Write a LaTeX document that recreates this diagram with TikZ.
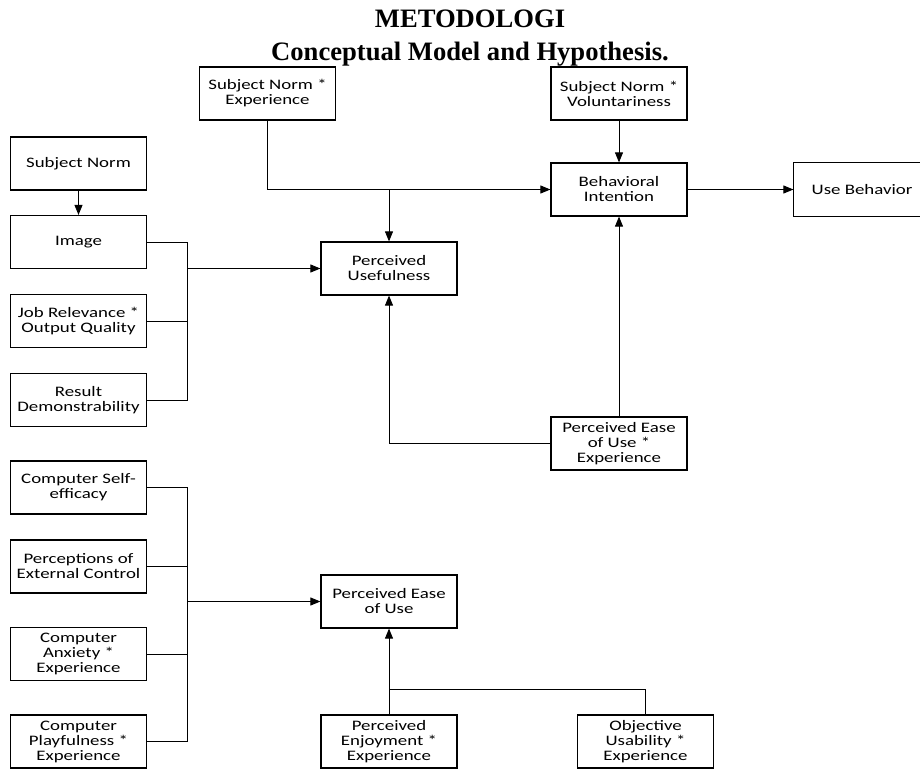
\documentclass[tikz,border=0pt]{standalone}
\usepackage{fontspec}
\setmainfont{Carlito}[FakeStretch=1.3]
\newfontfamily\titlefont{Liberation Serif}
\usetikzlibrary{arrows.meta}

\begin{document}
\begin{tikzpicture}[x=1pt,y=-1pt,
        box/.style={draw, line width=1.2pt, minimum width=136pt, minimum height=53pt,
            align=center, inner sep=1pt, font=\fontsize{14.5}{15}\selectfont},
        conn/.style={line width=0.9pt},
        >={Triangle[length=10pt,width=8pt]}]
            \useasboundingbox (0,0) rectangle (920,768);
            \clip (0,0) rectangle (920,768);
            \fill[white] (0,0) rectangle (920,768);

            \node[anchor=base] at (470,28) (T1) {\titlefont\fontsize{26.6}{31}\selectfont\bfseries METODOLOGI};
            \node[anchor=base] at (470,60) (T2) {\titlefont\fontsize{26.6}{31}\selectfont\bfseries Conceptual Model and Hypothesis.};

            \node[box] at (78.5,163.5) (B) {Subject Norm};
            \node[box] at (78.5,242) (C) {Image};
            \node[box] at (78.5,321) (D) {Job Relevance *\\Output Quality};
            \node[box] at (78.5,400) (E) {Result\\Demonstrability};
            \node[box] at (78.5,487.5) (F) {Computer Self-\\efficacy};
            \node[box] at (78.5,566.5) (G) {Perceptions of\\External Control};
            \node[box] at (78.5,654) (H) {Computer\\Anxiety *\\Experience};
            \node[box] at (78.5,741.5) (I) {Computer\\Playfulness *\\Experience};
            \node[box] at (267.5,93.5) (J) {Subject Norm *\\Experience};
            \node[box] at (389,268.5) (K) {Perceived\\Usefulness};
            \node[box] at (619,93.5) (L) {Subject Norm *\\Voluntariness};
            \node[box] at (619,189.5) (M) {Behavioral\\Intention};
            \node[box,draw=none] at (862,189.5) (N) {Use Behavior};
            \node[box] at (619,443.5) (O) {Perceived Ease\\of Use *\\Experience};
            \node[box] at (389,601.5) (P) {Perceived Ease\\of Use};
            \node[box] at (389,741.5) (Q) {Perceived\\Enjoyment *\\Experience};
            \node[box] at (645.5,741.5) (R) {Objective\\Usability *\\Experience};

            % box cut off at the right edge
            \draw[line width=1.2pt] (N.north east) -- (N.north west) -- (N.south west) -- (N.south east);

            \coordinate (X1) at (187,268.5);
            \coordinate (X2) at (187,601.5);
            \coordinate (X3) at (K.north |- M.west);
            \coordinate (X4) at (389,689);

            \draw[conn,->] (B) -- (C);
            \draw[conn] (C.east) -| (X1);
            \draw[conn] (D.east) -| (X1);
            \draw[conn] (E.east) -| (X1);
            \draw[conn,->] (X1) -- (K.west);

            \draw[conn] (F.east) -| (X2);
            \draw[conn] (G.east) -| (X2);
            \draw[conn] (H.east) -| (X2);
            \draw[conn] (I.east) -| (X2);
            \draw[conn,->] (X2) -- (P.west);

            \draw[conn,->] (J.south) |- (M.west);
            \draw[conn,->] (X3) -- (K.north);
            \draw[conn,->] (L) -- (M);
            \draw[conn,->] (M) -- (N);
            \draw[conn,->] (O) -- (M);
            \draw[conn,->] (O.west) -| (K.south);

            \draw[conn,->] (Q) -- (P);
            \draw[conn] (R.north) |- (X4);
        \end{tikzpicture}
\end{document}
